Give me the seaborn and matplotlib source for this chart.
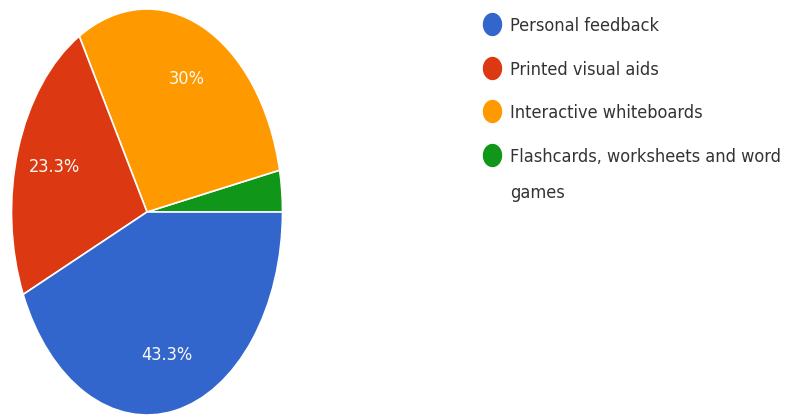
import numpy as np
import matplotlib
matplotlib.use("Agg")
import matplotlib.pyplot as plt
from matplotlib import font_manager
from matplotlib.font_manager import FontProperties
from matplotlib.lines import Line2D
from matplotlib.path import Path
import seaborn as sns

# ---- data (percent of responses) ----
categories = ["Personal feedback", "Printed visual aids",
              "Interactive whiteboards", "Flashcards, worksheets and word games"]
legend_labels = ["Personal feedback", "Printed visual aids",
                 "Interactive whiteboards", "Flashcards, worksheets and word\ngames"]
values = [43.3, 23.3, 30.0, 3.3]
colors = ["#3366CC", "#DC3912", "#FF9900", "#109618"]

# drawing order (counter-clockwise from 3 o'clock)
draw_order = [3, 2, 1, 0]

sns.set_theme(style="white")

# look for a condensed / narrow sans face (the reference text is horizontally squeezed)
narrow = None
prefs = ["LiberationSansNarrow-Regular", "DejaVuSansCondensed.", "RobotoCondensed-Regular",
         "OpenSans_Condensed-Regular", "OpenSansCondensed", "NotoSans-Condensed"]
files = [f.fname for f in font_manager.fontManager.ttflist]
for p in prefs:
    for fn in files:
        if p.lower() in fn.lower().replace(" ", ""):
            narrow = fn
            break
    if narrow:
        break

fs = 13.0
if narrow:
    fprop = FontProperties(fname=narrow, size=fs)
else:
    fprop = FontProperties(family=["Roboto", "DejaVu Sans"], size=fs)
plt.rcParams["font.family"] = ["Roboto", "DejaVu Sans"]

W, H = 785, 418
fig = plt.figure(figsize=(W / 100, H / 100), dpi=100)
fig.patch.set_facecolor("white")

cx, cy, rx, ry = 147, 212, 135.5, 203
ax = fig.add_axes([(cx - rx) / W, (H - cy - ry) / H, 2 * rx / W, 2 * ry / H])

wedges, texts, autotexts = ax.pie(
    [values[i] for i in draw_order],
    colors=[colors[i] for i in draw_order],
    startangle=0, counterclock=True,
    autopct=lambda p: f"{round(p, 1):g}%" if p > 5 else "",
    pctdistance=0.72,
    wedgeprops=dict(edgecolor="white", linewidth=1.2),
)
for at in autotexts:
    at.set_fontproperties(fprop)
    at.set_color("#FBFAF5")
ax.set_aspect("auto")
ax.set_xlim(-1.0, 1.0)
ax.set_ylim(-1.0, 1.0)
for w in wedges:
    w.set_clip_on(False)
ax.axis("off")

# ---- legend ----
t = np.linspace(0, 2 * np.pi, 64)
ell = Path(np.column_stack([0.82 * np.cos(t), np.sin(t)]), closed=True)
handles = [Line2D([], [], linestyle="none", marker=ell, markersize=15.8,
                  markerfacecolor=c, markeredgecolor=c) for c in colors]
px = fs / 0.72
hl = 1.0
left = 492 - hl * px / 2
leg = fig.legend(handles, legend_labels, loc="upper left",
                 bbox_to_anchor=(left / W, 1 - 17 / H),
                 frameon=False, prop=fprop, borderaxespad=0, borderpad=0,
                 handlelength=hl, handleheight=1.0,
                 handletextpad=(510 - left - hl * px) / px,
                 labelspacing=1.42, labelcolor="#333333")
for txt in leg.get_texts():
    txt.set_linespacing(2.3)
# align markers with the first text line
try:
    for col in leg._legend_handle_box.get_children():
        for item in col.get_children():
            item.align = "top"
except Exception:
    pass

fig.savefig("out.png", dpi=100, facecolor="white")
